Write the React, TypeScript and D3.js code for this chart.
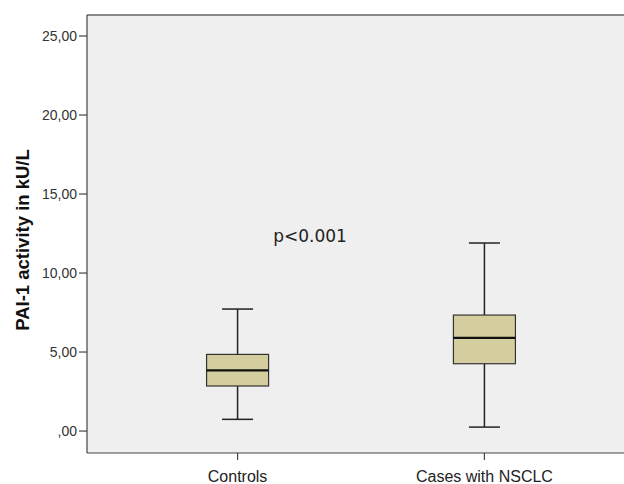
import React from 'react';
import * as d3 from 'd3';

const groups = ['Controls', 'Cases with NSCLC'];
const whiskerLow = [0.74, 0.25];
const q1 = [2.85, 4.26];
const median = [3.84, 5.9];
const q3 = [4.85, 7.34];
const whiskerHigh = [7.72, 11.9];
const yTicks = [0, 5, 10, 15, 20, 25];

const W = 624;
const H = 484;
const left = 87;
const top = 15;
const bottom = 453;

const fmt = (v: number) => (v === 0 ? ',00' : v.toFixed(2).replace('.', ','));

const App: React.FC = () => {
  const y = d3.scaleLinear().domain([-1.39, 26.33]).range([bottom, top]);
  const x = d3.scalePoint<string>().domain(groups).range([left, 635]).padding(0.61);
  const boxW = 62;
  const capW = 31;
  const font = 'Liberation Sans, Arial, sans-serif';

  return (
    <svg width={W} height={H} style={{ position: 'absolute', left: 0, top: 0 }}>
      <rect x={left} y={top} width={W - left} height={bottom - top} fill="#efefef" />
      <line x1={left} x2={W} y1={top} y2={top} stroke="#666" strokeWidth={1.5} />
      <line x1={left} x2={left} y1={top} y2={bottom} stroke="#444" strokeWidth={1.2} />
      <line x1={left} x2={W} y1={bottom} y2={bottom} stroke="#444" strokeWidth={1.2} />

      {yTicks.map((t) => (
        <g key={t}>
          <line x1={left - 8} x2={left} y1={y(t)} y2={y(t)} stroke="#444" strokeWidth={1.2} />
          <text x={left - 10} y={y(t)} dy="0.35em" textAnchor="end" fontFamily={font} fontSize={14} fill="#333">
            {fmt(t)}
          </text>
        </g>
      ))}

      {groups.map((g, i) => {
        const cx = x(g) as number;
        return (
          <g key={g}>
            <line x1={cx} x2={cx} y1={bottom} y2={bottom + 7} stroke="#444" strokeWidth={1.2} />
            <text x={cx} y={482} textAnchor="middle" fontFamily={font} fontSize={16} fill="#222">
              {g}
            </text>
            <line x1={cx} x2={cx} y1={y(whiskerLow[i])} y2={y(q1[i])} stroke="#222" strokeWidth={1.5} />
            <line x1={cx} x2={cx} y1={y(q3[i])} y2={y(whiskerHigh[i])} stroke="#222" strokeWidth={1.5} />
            <line x1={cx - capW / 2} x2={cx + capW / 2} y1={y(whiskerLow[i])} y2={y(whiskerLow[i])} stroke="#222" strokeWidth={1.5} />
            <line x1={cx - capW / 2} x2={cx + capW / 2} y1={y(whiskerHigh[i])} y2={y(whiskerHigh[i])} stroke="#222" strokeWidth={1.5} />
            <rect
              x={cx - boxW / 2}
              y={y(q3[i])}
              width={boxW}
              height={y(q1[i]) - y(q3[i])}
              fill="#d4ce9e"
              stroke="#333"
              strokeWidth={1.2}
            />
            <line x1={cx - boxW / 2} x2={cx + boxW / 2} y1={y(median[i])} y2={y(median[i])} stroke="#111" strokeWidth={2.2} />
          </g>
        );
      })}

      <text x={310} y={236} dy="0.35em" textAnchor="middle" fontFamily="DejaVu Sans, sans-serif" fontSize={17} fill="#222">
        p&lt;0.001
      </text>

      <text
        transform="translate(23,240) rotate(-90)"
        dy="0.35em"
        textAnchor="middle"
        fontFamily={font}
        fontWeight="bold"
        fontSize={18.5}
        fill="#111"
      >
        PAI-1 activity in kU/L
      </text>
    </svg>
  );
};

export default App;
